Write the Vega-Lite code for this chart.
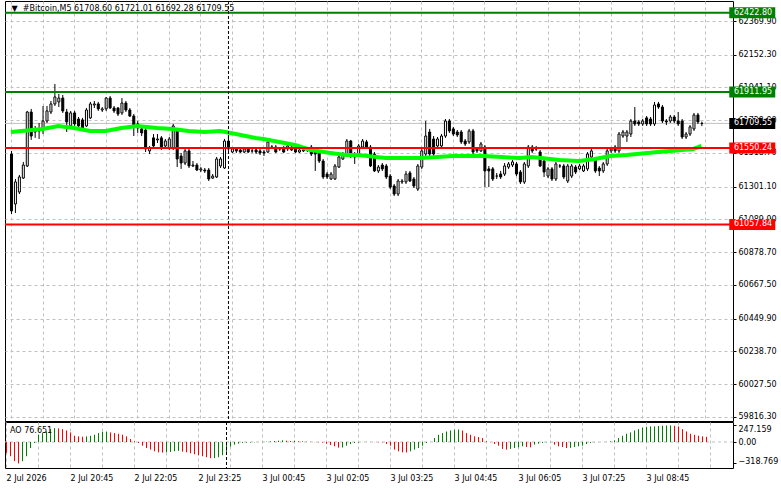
{
"$schema":"https://vega.github.io/schema/vega-lite/v6.json",
"background":"white",
"padding":{"left":2,"top":0,"right":0,"bottom":0},
"spacing":-2,
"config":{"view":{"stroke":"#000000","strokeWidth":1},"axis":{"labelFont":"DejaVu Sans","labelFontSize":8,"labelColor":"#000000","gridColor":"#c0c0c0","gridDash":[3,3],"gridWidth":1,"tickColor":"#000000","zindex":0,"labelOverlap":false,"labelFlush":false,"title":null},"text":{"font":"DejaVu Sans","fontSize":8}},
"resolve":{"scale":{"x":"independent","y":"independent","color":"independent"}},
"datasets":{
"candles":[
{"t":"2026-07-02T19:25","o":61512,"h":61532,"l":61125,"c":61145,"ao":-162,"d":"dn"},
{"t":"2026-07-02T19:30","o":61190,"h":61351,"l":61132,"c":61332,"ao":-212,"d":"dn"},
{"t":"2026-07-02T19:35","o":61267,"h":61377,"l":61254,"c":61364,"ao":-285,"d":"dn"},
{"t":"2026-07-02T19:40","o":61357,"h":61461,"l":61351,"c":61441,"ao":-318.769,"d":"dn"},
{"t":"2026-07-02T19:45","o":61435,"h":61790,"l":61428,"c":61783,"ao":-285,"d":"up"},
{"t":"2026-07-02T19:50","o":61783,"h":61803,"l":61603,"c":61628,"ao":-212,"d":"up"},
{"t":"2026-07-02T19:55","o":61654,"h":61693,"l":61616,"c":61667,"ao":-89,"d":"up"},
{"t":"2026-07-02T20:00","o":61674,"h":61712,"l":61609,"c":61661,"ao":-15,"d":"up"},
{"t":"2026-07-02T20:05","o":61674,"h":61822,"l":61641,"c":61725,"ao":108,"d":"up"},
{"t":"2026-07-02T20:10","o":61725,"h":61822,"l":61712,"c":61790,"ao":133,"d":"up"},
{"t":"2026-07-02T20:15","o":61783,"h":61854,"l":61770,"c":61835,"ao":157,"d":"up"},
{"t":"2026-07-02T20:20","o":61835,"h":61964,"l":61822,"c":61880,"ao":192,"d":"up"},
{"t":"2026-07-02T20:25","o":61848,"h":61899,"l":61815,"c":61873,"ao":207,"d":"up"},
{"t":"2026-07-02T20:30","o":61873,"h":61893,"l":61777,"c":61790,"ao":202,"d":"dn"},
{"t":"2026-07-02T20:35","o":61783,"h":61803,"l":61654,"c":61719,"ao":192,"d":"dn"},
{"t":"2026-07-02T20:40","o":61693,"h":61790,"l":61687,"c":61777,"ao":172,"d":"dn"},
{"t":"2026-07-02T20:45","o":61777,"h":61790,"l":61693,"c":61706,"ao":143,"d":"dn"},
{"t":"2026-07-02T20:50","o":61738,"h":61751,"l":61674,"c":61693,"ao":93,"d":"dn"},
{"t":"2026-07-02T20:55","o":61732,"h":61745,"l":61667,"c":61680,"ao":84,"d":"dn"},
{"t":"2026-07-02T21:00","o":61693,"h":61809,"l":61687,"c":61796,"ao":79,"d":"dn"},
{"t":"2026-07-02T21:05","o":61745,"h":61848,"l":61738,"c":61835,"ao":84,"d":"up"},
{"t":"2026-07-02T21:10","o":61828,"h":61854,"l":61809,"c":61835,"ao":93,"d":"up"},
{"t":"2026-07-02T21:15","o":61835,"h":61848,"l":61790,"c":61803,"ao":108,"d":"up"},
{"t":"2026-07-02T21:20","o":61796,"h":61815,"l":61783,"c":61803,"ao":133,"d":"up"},
{"t":"2026-07-02T21:25","o":61803,"h":61880,"l":61790,"c":61873,"ao":153,"d":"up"},
{"t":"2026-07-02T21:30","o":61873,"h":61886,"l":61803,"c":61809,"ao":155,"d":"up"},
{"t":"2026-07-02T21:35","o":61809,"h":61822,"l":61777,"c":61790,"ao":143,"d":"dn"},
{"t":"2026-07-02T21:40","o":61809,"h":61815,"l":61757,"c":61770,"ao":133,"d":"dn"},
{"t":"2026-07-02T21:45","o":61777,"h":61873,"l":61764,"c":61841,"ao":123,"d":"dn"},
{"t":"2026-07-02T21:50","o":61841,"h":61854,"l":61783,"c":61796,"ao":108,"d":"dn"},
{"t":"2026-07-02T21:55","o":61796,"h":61809,"l":61751,"c":61757,"ao":84,"d":"dn"},
{"t":"2026-07-02T22:00","o":61757,"h":61770,"l":61628,"c":61693,"ao":44,"d":"dn"},
{"t":"2026-07-02T22:05","o":61706,"h":61725,"l":61648,"c":61680,"ao":10,"d":"dn"},
{"t":"2026-07-02T22:10","o":61674,"h":61687,"l":61628,"c":61648,"ao":-15,"d":"dn"},
{"t":"2026-07-02T22:15","o":61667,"h":61680,"l":61525,"c":61545,"ao":-54,"d":"dn"},
{"t":"2026-07-02T22:20","o":61532,"h":61564,"l":61512,"c":61551,"ao":-89,"d":"dn"},
{"t":"2026-07-02T22:25","o":61616,"h":61641,"l":61551,"c":61564,"ao":-113,"d":"dn"},
{"t":"2026-07-02T22:30","o":61603,"h":61641,"l":61583,"c":61609,"ao":-138,"d":"dn"},
{"t":"2026-07-02T22:35","o":61616,"h":61628,"l":61538,"c":61551,"ao":-153,"d":"dn"},
{"t":"2026-07-02T22:40","o":61564,"h":61609,"l":61551,"c":61596,"ao":-157,"d":"dn"},
{"t":"2026-07-02T22:45","o":61551,"h":61622,"l":61538,"c":61609,"ao":-153,"d":"up"},
{"t":"2026-07-02T22:50","o":61551,"h":61706,"l":61538,"c":61693,"ao":-148,"d":"up"},
{"t":"2026-07-02T22:55","o":61661,"h":61674,"l":61428,"c":61480,"ao":-138,"d":"up"},
{"t":"2026-07-02T23:00","o":61499,"h":61519,"l":61416,"c":61454,"ao":-133,"d":"up"},
{"t":"2026-07-02T23:05","o":61454,"h":61551,"l":61441,"c":61532,"ao":-143,"d":"dn"},
{"t":"2026-07-02T23:10","o":61532,"h":61545,"l":61422,"c":61435,"ao":-153,"d":"dn"},
{"t":"2026-07-02T23:15","o":61435,"h":61467,"l":61428,"c":61441,"ao":-167,"d":"dn"},
{"t":"2026-07-02T23:20","o":61441,"h":61454,"l":61403,"c":61409,"ao":-182,"d":"dn"},
{"t":"2026-07-02T23:25","o":61409,"h":61428,"l":61396,"c":61416,"ao":-197,"d":"dn"},
{"t":"2026-07-02T23:30","o":61409,"h":61422,"l":61390,"c":61403,"ao":-212,"d":"dn"},
{"t":"2026-07-02T23:35","o":61409,"h":61422,"l":61338,"c":61351,"ao":-226,"d":"dn"},
{"t":"2026-07-02T23:40","o":61357,"h":61383,"l":61351,"c":61370,"ao":-241,"d":"dn"},
{"t":"2026-07-02T23:45","o":61364,"h":61493,"l":61357,"c":61480,"ao":-240,"d":"up"},
{"t":"2026-07-02T23:50","o":61435,"h":61493,"l":61422,"c":61480,"ao":-226,"d":"up"},
{"t":"2026-07-02T23:55","o":61422,"h":61609,"l":61416,"c":61596,"ao":-197,"d":"up"},
{"t":"2026-07-03T00:00","o":61596,"h":61635,"l":61532,"c":61545,"ao":-148,"d":"up"},
{"t":"2026-07-03T00:05","o":61525,"h":61557,"l":61519,"c":61545,"ao":-69,"d":"up"},
{"t":"2026-07-03T00:10","o":61545,"h":61551,"l":61519,"c":61532,"ao":-39,"d":"up"},
{"t":"2026-07-03T00:15","o":61538,"h":61551,"l":61519,"c":61525,"ao":-25,"d":"up"},
{"t":"2026-07-03T00:20","o":61525,"h":61551,"l":61519,"c":61545,"ao":-15,"d":"up"},
{"t":"2026-07-03T00:25","o":61545,"h":61557,"l":61519,"c":61525,"ao":-10,"d":"up"},
{"t":"2026-07-03T00:30","o":61532,"h":61545,"l":61519,"c":61532,"ao":-8,"d":"up"},
{"t":"2026-07-03T00:35","o":61538,"h":61551,"l":61512,"c":61525,"ao":-5,"d":"up"},
{"t":"2026-07-03T00:40","o":61532,"h":61545,"l":61506,"c":61519,"ao":1,"d":"up"},
{"t":"2026-07-03T00:45","o":61525,"h":61538,"l":61499,"c":61519,"ao":3,"d":"up"},
{"t":"2026-07-03T00:50","o":61525,"h":61603,"l":61519,"c":61590,"ao":5,"d":"up"},
{"t":"2026-07-03T00:55","o":61557,"h":61570,"l":61545,"c":61557,"ao":10,"d":"up"},
{"t":"2026-07-03T01:00","o":61557,"h":61570,"l":61519,"c":61525,"ao":15,"d":"up"},
{"t":"2026-07-03T01:05","o":61545,"h":61557,"l":61532,"c":61545,"ao":20,"d":"up"},
{"t":"2026-07-03T01:10","o":61551,"h":61564,"l":61519,"c":61525,"ao":25,"d":"up"},
{"t":"2026-07-03T01:15","o":61545,"h":61577,"l":61532,"c":61564,"ao":20,"d":"dn"},
{"t":"2026-07-03T01:20","o":61557,"h":61570,"l":61532,"c":61538,"ao":15,"d":"dn"},
{"t":"2026-07-03T01:25","o":61545,"h":61557,"l":61519,"c":61525,"ao":18,"d":"up"},
{"t":"2026-07-03T01:30","o":61525,"h":61551,"l":61519,"c":61538,"ao":10,"d":"dn"},
{"t":"2026-07-03T01:35","o":61532,"h":61551,"l":61525,"c":61538,"ao":12,"d":"up"},
{"t":"2026-07-03T01:40","o":61538,"h":61551,"l":61525,"c":61538,"ao":6,"d":"dn"},
{"t":"2026-07-03T01:45","o":61557,"h":61570,"l":61499,"c":61512,"ao":3,"d":"dn"},
{"t":"2026-07-03T01:50","o":61532,"h":61545,"l":61403,"c":61512,"ao":-2,"d":"dn"},
{"t":"2026-07-03T01:55","o":61525,"h":61538,"l":61454,"c":61467,"ao":-5,"d":"dn"},
{"t":"2026-07-03T02:00","o":61467,"h":61480,"l":61351,"c":61364,"ao":-8,"d":"dn"},
{"t":"2026-07-03T02:05","o":61383,"h":61396,"l":61351,"c":61364,"ao":-25,"d":"dn"},
{"t":"2026-07-03T02:10","o":61351,"h":61396,"l":61345,"c":61383,"ao":-44,"d":"dn"},
{"t":"2026-07-03T02:15","o":61351,"h":61448,"l":61345,"c":61435,"ao":-64,"d":"dn"},
{"t":"2026-07-03T02:20","o":61428,"h":61506,"l":61422,"c":61493,"ao":-84,"d":"dn"},
{"t":"2026-07-03T02:25","o":61480,"h":61525,"l":61474,"c":61512,"ao":-82,"d":"up"},
{"t":"2026-07-03T02:30","o":61512,"h":61609,"l":61499,"c":61596,"ao":-54,"d":"up"},
{"t":"2026-07-03T02:35","o":61596,"h":61603,"l":61486,"c":61499,"ao":-30,"d":"up"},
{"t":"2026-07-03T02:40","o":61512,"h":61525,"l":61448,"c":61493,"ao":-15,"d":"up"},
{"t":"2026-07-03T02:45","o":61512,"h":61577,"l":61506,"c":61564,"ao":-8,"d":"up"},
{"t":"2026-07-03T02:50","o":61557,"h":61609,"l":61551,"c":61596,"ao":2,"d":"up"},
{"t":"2026-07-03T02:55","o":61590,"h":61603,"l":61551,"c":61557,"ao":3,"d":"up"},
{"t":"2026-07-03T03:00","o":61557,"h":61570,"l":61428,"c":61435,"ao":1,"d":"dn"},
{"t":"2026-07-03T03:05","o":61512,"h":61525,"l":61396,"c":61403,"ao":-3,"d":"dn"},
{"t":"2026-07-03T03:10","o":61403,"h":61441,"l":61390,"c":61428,"ao":-4,"d":"dn"},
{"t":"2026-07-03T03:15","o":61441,"h":61454,"l":61403,"c":61416,"ao":-6,"d":"dn"},
{"t":"2026-07-03T03:20","o":61435,"h":61448,"l":61351,"c":61364,"ao":-30,"d":"dn"},
{"t":"2026-07-03T03:25","o":61370,"h":61383,"l":61286,"c":61299,"ao":-54,"d":"dn"},
{"t":"2026-07-03T03:30","o":61306,"h":61319,"l":61241,"c":61254,"ao":-113,"d":"dn"},
{"t":"2026-07-03T03:35","o":61254,"h":61351,"l":61241,"c":61338,"ao":-138,"d":"dn"},
{"t":"2026-07-03T03:40","o":61332,"h":61351,"l":61319,"c":61338,"ao":-153,"d":"dn"},
{"t":"2026-07-03T03:45","o":61332,"h":61403,"l":61319,"c":61383,"ao":-155,"d":"dn"},
{"t":"2026-07-03T03:50","o":61390,"h":61403,"l":61332,"c":61338,"ao":-138,"d":"up"},
{"t":"2026-07-03T03:55","o":61351,"h":61364,"l":61293,"c":61306,"ao":-113,"d":"up"},
{"t":"2026-07-03T04:00","o":61286,"h":61448,"l":61274,"c":61435,"ao":-89,"d":"up"},
{"t":"2026-07-03T04:05","o":61428,"h":61545,"l":61416,"c":61532,"ao":-54,"d":"up"},
{"t":"2026-07-03T04:10","o":61512,"h":61725,"l":61499,"c":61628,"ao":-15,"d":"up"},
{"t":"2026-07-03T04:15","o":61654,"h":61674,"l":61499,"c":61512,"ao":2,"d":"up"},
{"t":"2026-07-03T04:20","o":61609,"h":61628,"l":61499,"c":61512,"ao":59,"d":"up"},
{"t":"2026-07-03T04:25","o":61564,"h":61622,"l":61551,"c":61609,"ao":108,"d":"up"},
{"t":"2026-07-03T04:30","o":61564,"h":61641,"l":61551,"c":61628,"ao":133,"d":"up"},
{"t":"2026-07-03T04:35","o":61628,"h":61738,"l":61616,"c":61725,"ao":157,"d":"up"},
{"t":"2026-07-03T04:40","o":61725,"h":61738,"l":61648,"c":61661,"ao":172,"d":"up"},
{"t":"2026-07-03T04:45","o":61674,"h":61687,"l":61628,"c":61641,"ao":182,"d":"up"},
{"t":"2026-07-03T04:50","o":61654,"h":61667,"l":61622,"c":61635,"ao":187,"d":"up"},
{"t":"2026-07-03T04:55","o":61654,"h":61667,"l":61577,"c":61590,"ao":172,"d":"dn"},
{"t":"2026-07-03T05:00","o":61596,"h":61609,"l":61564,"c":61577,"ao":133,"d":"dn"},
{"t":"2026-07-03T05:05","o":61590,"h":61674,"l":61577,"c":61661,"ao":108,"d":"dn"},
{"t":"2026-07-03T05:10","o":61661,"h":61674,"l":61512,"c":61525,"ao":84,"d":"dn"},
{"t":"2026-07-03T05:15","o":61545,"h":61557,"l":61519,"c":61532,"ao":74,"d":"dn"},
{"t":"2026-07-03T05:20","o":61532,"h":61590,"l":61525,"c":61577,"ao":59,"d":"dn"},
{"t":"2026-07-03T05:25","o":61557,"h":61570,"l":61299,"c":61403,"ao":10,"d":"dn"},
{"t":"2026-07-03T05:30","o":61416,"h":61435,"l":61299,"c":61403,"ao":-2,"d":"dn"},
{"t":"2026-07-03T05:35","o":61416,"h":61428,"l":61338,"c":61351,"ao":-30,"d":"dn"},
{"t":"2026-07-03T05:40","o":61370,"h":61390,"l":61351,"c":61370,"ao":-54,"d":"dn"},
{"t":"2026-07-03T05:45","o":61383,"h":61403,"l":61351,"c":61364,"ao":-103,"d":"dn"},
{"t":"2026-07-03T05:50","o":61383,"h":61454,"l":61370,"c":61435,"ao":-113,"d":"dn"},
{"t":"2026-07-03T05:55","o":61428,"h":61461,"l":61416,"c":61448,"ao":-103,"d":"up"},
{"t":"2026-07-03T06:00","o":61441,"h":61474,"l":61428,"c":61461,"ao":-89,"d":"up"},
{"t":"2026-07-03T06:05","o":61448,"h":61461,"l":61370,"c":61383,"ao":-79,"d":"up"},
{"t":"2026-07-03T06:10","o":61396,"h":61409,"l":61319,"c":61332,"ao":-64,"d":"up"},
{"t":"2026-07-03T06:15","o":61332,"h":61461,"l":61319,"c":61448,"ao":-74,"d":"dn"},
{"t":"2026-07-03T06:20","o":61435,"h":61570,"l":61422,"c":61557,"ao":-79,"d":"dn"},
{"t":"2026-07-03T06:25","o":61557,"h":61570,"l":61519,"c":61532,"ao":-39,"d":"up"},
{"t":"2026-07-03T06:30","o":61545,"h":61564,"l":61532,"c":61545,"ao":-25,"d":"up"},
{"t":"2026-07-03T06:35","o":61525,"h":61538,"l":61428,"c":61435,"ao":-15,"d":"up"},
{"t":"2026-07-03T06:40","o":61467,"h":61480,"l":61364,"c":61396,"ao":-5,"d":"up"},
{"t":"2026-07-03T06:45","o":61370,"h":61428,"l":61357,"c":61416,"ao":-1,"d":"up"},
{"t":"2026-07-03T06:50","o":61416,"h":61428,"l":61338,"c":61351,"ao":-39,"d":"dn"},
{"t":"2026-07-03T06:55","o":61351,"h":61461,"l":61338,"c":61448,"ao":-64,"d":"dn"},
{"t":"2026-07-03T07:00","o":61435,"h":61448,"l":61422,"c":61435,"ao":-74,"d":"dn"},
{"t":"2026-07-03T07:05","o":61435,"h":61448,"l":61351,"c":61364,"ao":-89,"d":"dn"},
{"t":"2026-07-03T07:10","o":61338,"h":61448,"l":61325,"c":61435,"ao":-87,"d":"up"},
{"t":"2026-07-03T07:15","o":61370,"h":61448,"l":61357,"c":61435,"ao":-74,"d":"up"},
{"t":"2026-07-03T07:20","o":61428,"h":61441,"l":61383,"c":61396,"ao":-64,"d":"up"},
{"t":"2026-07-03T07:25","o":61416,"h":61448,"l":61409,"c":61435,"ao":-54,"d":"up"},
{"t":"2026-07-03T07:30","o":61403,"h":61448,"l":61396,"c":61435,"ao":-30,"d":"up"},
{"t":"2026-07-03T07:35","o":61416,"h":61525,"l":61403,"c":61512,"ao":-15,"d":"up"},
{"t":"2026-07-03T07:40","o":61493,"h":61545,"l":61486,"c":61532,"ao":-5,"d":"up"},
{"t":"2026-07-03T07:45","o":61480,"h":61493,"l":61390,"c":61403,"ao":-2,"d":"up"},
{"t":"2026-07-03T07:50","o":61422,"h":61435,"l":61370,"c":61403,"ao":1,"d":"up"},
{"t":"2026-07-03T07:55","o":61403,"h":61461,"l":61390,"c":61448,"ao":2,"d":"up"},
{"t":"2026-07-03T08:00","o":61448,"h":61545,"l":61435,"c":61532,"ao":10,"d":"up"},
{"t":"2026-07-03T08:05","o":61532,"h":61557,"l":61519,"c":61545,"ao":25,"d":"up"},
{"t":"2026-07-03T08:10","o":61557,"h":61570,"l":61519,"c":61532,"ao":59,"d":"up"},
{"t":"2026-07-03T08:15","o":61532,"h":61654,"l":61519,"c":61641,"ao":93,"d":"up"},
{"t":"2026-07-03T08:20","o":61628,"h":61667,"l":61616,"c":61654,"ao":123,"d":"up"},
{"t":"2026-07-03T08:25","o":61628,"h":61667,"l":61590,"c":61654,"ao":143,"d":"up"},
{"t":"2026-07-03T08:30","o":61641,"h":61738,"l":61622,"c":61725,"ao":172,"d":"up"},
{"t":"2026-07-03T08:35","o":61725,"h":61815,"l":61693,"c":61706,"ao":192,"d":"up"},
{"t":"2026-07-03T08:40","o":61719,"h":61732,"l":61693,"c":61706,"ao":216,"d":"up"},
{"t":"2026-07-03T08:45","o":61706,"h":61738,"l":61693,"c":61725,"ao":226,"d":"up"},
{"t":"2026-07-03T08:50","o":61745,"h":61757,"l":61693,"c":61706,"ao":231,"d":"up"},
{"t":"2026-07-03T08:55","o":61738,"h":61751,"l":61693,"c":61706,"ao":233,"d":"up"},
{"t":"2026-07-03T09:00","o":61706,"h":61848,"l":61693,"c":61828,"ao":238,"d":"up"},
{"t":"2026-07-03T09:05","o":61835,"h":61848,"l":61803,"c":61815,"ao":243,"d":"up"},
{"t":"2026-07-03T09:10","o":61815,"h":61828,"l":61712,"c":61725,"ao":246,"d":"up"},
{"t":"2026-07-03T09:15","o":61725,"h":61738,"l":61699,"c":61719,"ao":247.159,"d":"up"},
{"t":"2026-07-03T09:20","o":61725,"h":61764,"l":61712,"c":61751,"ao":241,"d":"dn"},
{"t":"2026-07-03T09:25","o":61751,"h":61764,"l":61712,"c":61725,"ao":231,"d":"dn"},
{"t":"2026-07-03T09:30","o":61725,"h":61783,"l":61693,"c":61706,"ao":192,"d":"dn"},
{"t":"2026-07-03T09:35","o":61725,"h":61738,"l":61609,"c":61622,"ao":157,"d":"dn"},
{"t":"2026-07-03T09:40","o":61622,"h":61654,"l":61609,"c":61641,"ao":123,"d":"dn"},
{"t":"2026-07-03T09:45","o":61641,"h":61699,"l":61628,"c":61687,"ao":108,"d":"dn"},
{"t":"2026-07-03T09:50","o":61674,"h":61777,"l":61661,"c":61764,"ao":93,"d":"dn"},
{"t":"2026-07-03T09:55","o":61764,"h":61777,"l":61706,"c":61719,"ao":84,"d":"dn"},
{"t":"2026-07-03T10:00","o":61708.6,"h":61721.01,"l":61692.28,"c":61709.55,"ao":76.651,"d":"dn"}
],
"ma":[
{"t":"2026-07-02T19:25","v":61654},{"t":"2026-07-02T20:05","v":61674},{"t":"2026-07-02T20:25","v":61693},{"t":"2026-07-02T20:45","v":61680},{"t":"2026-07-02T21:05","v":61661},{"t":"2026-07-02T21:25","v":61661},{"t":"2026-07-02T21:45","v":61680},{"t":"2026-07-02T22:05","v":61693},{"t":"2026-07-02T22:30","v":61680},{"t":"2026-07-02T22:50","v":61674},{"t":"2026-07-02T23:10","v":61661},{"t":"2026-07-02T23:30","v":61654},{"t":"2026-07-02T23:50","v":61661},{"t":"2026-07-03T00:10","v":61641},{"t":"2026-07-03T00:35","v":61616},{"t":"2026-07-03T00:45","v":61609},{"t":"2026-07-03T01:05","v":61590},{"t":"2026-07-03T01:25","v":61570},{"t":"2026-07-03T01:45","v":61538},{"t":"2026-07-03T02:10","v":61519},{"t":"2026-07-03T02:30","v":61506},{"t":"2026-07-03T02:45","v":61506},{"t":"2026-07-03T03:20","v":61486},{"t":"2026-07-03T04:05","v":61486},{"t":"2026-07-03T04:45","v":61499},{"t":"2026-07-03T05:25","v":61499},{"t":"2026-07-03T06:10","v":61486},{"t":"2026-07-03T06:25","v":61493},{"t":"2026-07-03T07:00","v":61474},{"t":"2026-07-03T07:25","v":61467},{"t":"2026-07-03T07:45","v":61480},{"t":"2026-07-03T08:05","v":61499},{"t":"2026-07-03T08:25","v":61506},{"t":"2026-07-03T09:05","v":61525},{"t":"2026-07-03T09:50","v":61545},{"t":"2026-07-03T10:00","v":61564}
],
"levels":[{"p":62422.8,"k":"g"},{"p":61911.95,"k":"g"},{"p":61550.24,"k":"r"},{"p":61057.84,"k":"r"}],
"bid":[{"p":61709.55}],
"labels":[{"p":62422.8,"k":"g"},{"p":61911.95,"k":"g"},{"p":61709.55,"k":"b"},{"p":61550.24,"k":"r"},{"p":61057.84,"k":"r"}],
"sep":[{"t":"2026-07-03T00:00"}],
"info":[{"title":"\u25bc\u00a0\u00a0#Bitcoin,M5 61708.60 61721.01 61692.28 61709.55","ind":"AO 76.651"}]
},
"vconcat":[
{
"width":728,"height":420,
"layer":[
{"data":{"name":"bid"},"mark":{"type":"rule","color":"#c0c0c0","strokeWidth":1},
 "encoding":{"y":{"field":"p","type":"quantitative","title":null,"scale":{"domain":[59790.3,62498.9],"nice":false,"zero":false},
  "axis":{"orient":"right","values":[62369.9,62152.3,61941.1,61729.9,61518.7,61301.1,61089.9,60878.7,60667.5,60449.9,60238.7,60027.5,59816.3],"tickCount":40,"format":".2f","grid":true,"domain":false,"ticks":true,"tickSize":3,"labelPadding":2,"title":null,"labelOverlap":false,"labelBound":false}}}},
{"data":{"name":"candles"},"mark":{"type":"rule","color":"#000000","strokeWidth":1,"xOffset":0.5},
 "encoding":{
  "x":{"field":"t","type":"temporal","title":null,"scale":{"domain":[{"year":2026,"month":7,"date":2,"hours":19,"minutes":23,"seconds":45},{"year":2026,"month":7,"date":3,"hours":10,"minutes":33,"seconds":45}]},
   "axis":{"values":[{"year":2026,"month":7,"date":2,"hours":19,"minutes":25},{"year":2026,"month":7,"date":2,"hours":20,"minutes":5},{"year":2026,"month":7,"date":2,"hours":20,"minutes":45},{"year":2026,"month":7,"date":2,"hours":21,"minutes":25},{"year":2026,"month":7,"date":2,"hours":22,"minutes":5},{"year":2026,"month":7,"date":2,"hours":22,"minutes":45},{"year":2026,"month":7,"date":2,"hours":23,"minutes":25},{"year":2026,"month":7,"date":3,"hours":0,"minutes":5},{"year":2026,"month":7,"date":3,"hours":0,"minutes":45},{"year":2026,"month":7,"date":3,"hours":1,"minutes":25},{"year":2026,"month":7,"date":3,"hours":2,"minutes":5},{"year":2026,"month":7,"date":3,"hours":2,"minutes":45},{"year":2026,"month":7,"date":3,"hours":3,"minutes":25},{"year":2026,"month":7,"date":3,"hours":4,"minutes":5},{"year":2026,"month":7,"date":3,"hours":4,"minutes":45},{"year":2026,"month":7,"date":3,"hours":5,"minutes":25},{"year":2026,"month":7,"date":3,"hours":6,"minutes":5},{"year":2026,"month":7,"date":3,"hours":6,"minutes":45},{"year":2026,"month":7,"date":3,"hours":7,"minutes":25},{"year":2026,"month":7,"date":3,"hours":8,"minutes":5},{"year":2026,"month":7,"date":3,"hours":8,"minutes":45},{"year":2026,"month":7,"date":3,"hours":9,"minutes":25},{"year":2026,"month":7,"date":3,"hours":10,"minutes":5}],
    "tickCount":60,"grid":true,"labels":false,"ticks":false,"domain":false,"title":null,"minExtent":0,"maxExtent":0,"offset":0,"labelPadding":0}},
  "y":{"field":"l","type":"quantitative","title":null,"scale":{"domain":[59790.3,62498.9],"nice":false,"zero":false}},
  "y2":{"field":"h"}}},
{"data":{"name":"candles"},"mark":{"type":"bar","width":2,"stroke":"#000000","strokeWidth":1,"xOffset":0.5},
 "encoding":{
  "x":{"field":"t","type":"temporal","title":null,"scale":{"domain":[{"year":2026,"month":7,"date":2,"hours":19,"minutes":23,"seconds":45},{"year":2026,"month":7,"date":3,"hours":10,"minutes":33,"seconds":45}]}},
  "y":{"field":"o","type":"quantitative","title":null,"scale":{"domain":[59790.3,62498.9],"nice":false,"zero":false}},
  "y2":{"field":"c"},
  "fill":{"condition":{"test":"datum.c >= datum.o","value":"#ffffff"},"value":"#000000"}}},
{"data":{"name":"ma"},"mark":{"type":"line","color":"#00ff00","strokeWidth":4},
 "encoding":{
  "x":{"field":"t","type":"temporal","title":null,"scale":{"domain":[{"year":2026,"month":7,"date":2,"hours":19,"minutes":23,"seconds":45},{"year":2026,"month":7,"date":3,"hours":10,"minutes":33,"seconds":45}]}},
  "y":{"field":"v","type":"quantitative","title":null,"scale":{"domain":[59790.3,62498.9],"nice":false,"zero":false}}}},
{"data":{"name":"levels"},"mark":{"type":"rule","strokeWidth":2},
 "encoding":{
  "y":{"field":"p","type":"quantitative","title":null,"scale":{"domain":[59790.3,62498.9],"nice":false,"zero":false}},
  "color":{"field":"k","type":"nominal","scale":{"domain":["g","r","b"],"range":["#008000","#ff0000","#000000"]},"legend":null}}},
{"data":{"name":"sep"},"mark":{"type":"rule","color":"#000000","strokeWidth":1,"strokeDash":[3,2],"xOffset":0.5},
 "encoding":{
  "x":{"field":"t","type":"temporal","title":null,"scale":{"domain":[{"year":2026,"month":7,"date":2,"hours":19,"minutes":23,"seconds":45},{"year":2026,"month":7,"date":3,"hours":10,"minutes":33,"seconds":45}]}}}},
{"data":{"name":"labels"},"mark":{"type":"rect","width":46,"height":11},
 "encoding":{
  "x":{"datum":{"year":2026,"month":7,"date":3,"hours":11,"minutes":4,"seconds":30},"type":"temporal","title":null,"scale":{"domain":[{"year":2026,"month":7,"date":2,"hours":19,"minutes":23,"seconds":45},{"year":2026,"month":7,"date":3,"hours":10,"minutes":33,"seconds":45}]}},
  "y":{"field":"p","type":"quantitative","title":null,"scale":{"domain":[59790.3,62498.9],"nice":false,"zero":false}},
  "color":{"field":"k","type":"nominal","scale":{"domain":["g","r","b"],"range":["#008000","#ff0000","#000000"]},"legend":null}}},
{"data":{"name":"labels"},"mark":{"type":"text","color":"#ffffff","align":"left","baseline":"middle","fontSize":8},
 "encoding":{
  "x":{"datum":{"year":2026,"month":7,"date":3,"hours":10,"minutes":41,"seconds":15},"type":"temporal","title":null,"scale":{"domain":[{"year":2026,"month":7,"date":2,"hours":19,"minutes":23,"seconds":45},{"year":2026,"month":7,"date":3,"hours":10,"minutes":33,"seconds":45}]}},
  "y":{"field":"p","type":"quantitative","title":null,"scale":{"domain":[59790.3,62498.9],"nice":false,"zero":false}},
  "text":{"field":"p","type":"quantitative","format":".2f"}}},
{"data":{"name":"info"},"mark":{"type":"text","color":"#000000","align":"left","baseline":"middle","fontSize":8},
 "encoding":{
  "x":{"datum":{"year":2026,"month":7,"date":2,"hours":19,"minutes":25,"seconds":45},"type":"temporal","title":null,"scale":{"domain":[{"year":2026,"month":7,"date":2,"hours":19,"minutes":23,"seconds":45},{"year":2026,"month":7,"date":3,"hours":10,"minutes":33,"seconds":45}]}},
  "y":{"datum":62447,"type":"quantitative","title":null,"scale":{"domain":[59790.3,62498.9],"nice":false,"zero":false}},
  "text":{"field":"title"}}}
]
},
{
"width":728,"height":46,
"layer":[
{"data":{"values":[{"lvl":0}]},"mark":{"type":"rule","color":"#c0c0c0","strokeDash":[3,3],"strokeWidth":1},
 "encoding":{"y":{"field":"lvl","type":"quantitative","title":null,"scale":{"domain":[-387,298],"nice":false,"zero":false},
  "axis":{"orient":"right","values":[247.159,0,-318.769],"tickCount":10,"grid":false,"domain":false,"ticks":true,"tickSize":3,"labelPadding":2,"title":null,"labelOverlap":false,"labelBound":false,
   "labelExpr":"datum.value == 0 ? '0.00' : format(datum.value, '.3f')",
   "labelBaseline":{"condition":[{"test":"datum.value > 1","value":"top"},{"test":"datum.value < -1","value":"alphabetic"}],"value":"middle"}}}}},
{"data":{"name":"candles"},"mark":{"type":"rule","strokeWidth":1,"xOffset":0.5},
 "encoding":{
  "x":{"field":"t","type":"temporal","title":null,"scale":{"domain":[{"year":2026,"month":7,"date":2,"hours":19,"minutes":23,"seconds":45},{"year":2026,"month":7,"date":3,"hours":10,"minutes":33,"seconds":45}]},
   "axis":{"values":[{"year":2026,"month":7,"date":2,"hours":19,"minutes":25},{"year":2026,"month":7,"date":2,"hours":20,"minutes":5},{"year":2026,"month":7,"date":2,"hours":20,"minutes":45},{"year":2026,"month":7,"date":2,"hours":21,"minutes":25},{"year":2026,"month":7,"date":2,"hours":22,"minutes":5},{"year":2026,"month":7,"date":2,"hours":22,"minutes":45},{"year":2026,"month":7,"date":2,"hours":23,"minutes":25},{"year":2026,"month":7,"date":3,"hours":0,"minutes":5},{"year":2026,"month":7,"date":3,"hours":0,"minutes":45},{"year":2026,"month":7,"date":3,"hours":1,"minutes":25},{"year":2026,"month":7,"date":3,"hours":2,"minutes":5},{"year":2026,"month":7,"date":3,"hours":2,"minutes":45},{"year":2026,"month":7,"date":3,"hours":3,"minutes":25},{"year":2026,"month":7,"date":3,"hours":4,"minutes":5},{"year":2026,"month":7,"date":3,"hours":4,"minutes":45},{"year":2026,"month":7,"date":3,"hours":5,"minutes":25},{"year":2026,"month":7,"date":3,"hours":6,"minutes":5},{"year":2026,"month":7,"date":3,"hours":6,"minutes":45},{"year":2026,"month":7,"date":3,"hours":7,"minutes":25},{"year":2026,"month":7,"date":3,"hours":8,"minutes":5},{"year":2026,"month":7,"date":3,"hours":8,"minutes":45},{"year":2026,"month":7,"date":3,"hours":9,"minutes":25},{"year":2026,"month":7,"date":3,"hours":10,"minutes":5}],
    "tickCount":60,"grid":true,"ticks":false,"domain":false,"title":null,"labelAlign":"left","labelBaseline":"top","labelPadding":6,
    "labelExpr":"round((datum.value - datetime(2026,6,2,19,25,0,0))/60000) == 0 ? '2 Jul 2026' : ((round((datum.value - datetime(2026,6,2,19,25,0,0))/60000) % 80 == 0 && round((datum.value - datetime(2026,6,2,19,25,0,0))/60000) < 880) ? timeFormat(datum.value, '%-d %b %H:%M') : '')"}},
  "y":{"field":"ao","type":"quantitative","title":null,"scale":{"domain":[-387,298],"nice":false,"zero":false}},
  "y2":{"datum":0},
  "color":{"condition":{"test":"datum.d == 'up'","value":"#008000"},"value":"#ff0000"}}},
{"data":{"name":"sep"},"mark":{"type":"rule","color":"#000000","strokeWidth":1,"strokeDash":[3,2],"xOffset":0.5},
 "encoding":{
  "x":{"field":"t","type":"temporal","title":null,"scale":{"domain":[{"year":2026,"month":7,"date":2,"hours":19,"minutes":23,"seconds":45},{"year":2026,"month":7,"date":3,"hours":10,"minutes":33,"seconds":45}]}}}},
{"data":{"name":"info"},"mark":{"type":"text","color":"#000000","align":"left","baseline":"middle","fontSize":8},
 "encoding":{
  "x":{"datum":{"year":2026,"month":7,"date":2,"hours":19,"minutes":30},"type":"temporal","title":null,"scale":{"domain":[{"year":2026,"month":7,"date":2,"hours":19,"minutes":23,"seconds":45},{"year":2026,"month":7,"date":3,"hours":10,"minutes":33,"seconds":45}]}},
  "y":{"datum":160,"type":"quantitative","title":null,"scale":{"domain":[-387,298],"nice":false,"zero":false}},
  "text":{"field":"ind"}}}
]
}
]
}
